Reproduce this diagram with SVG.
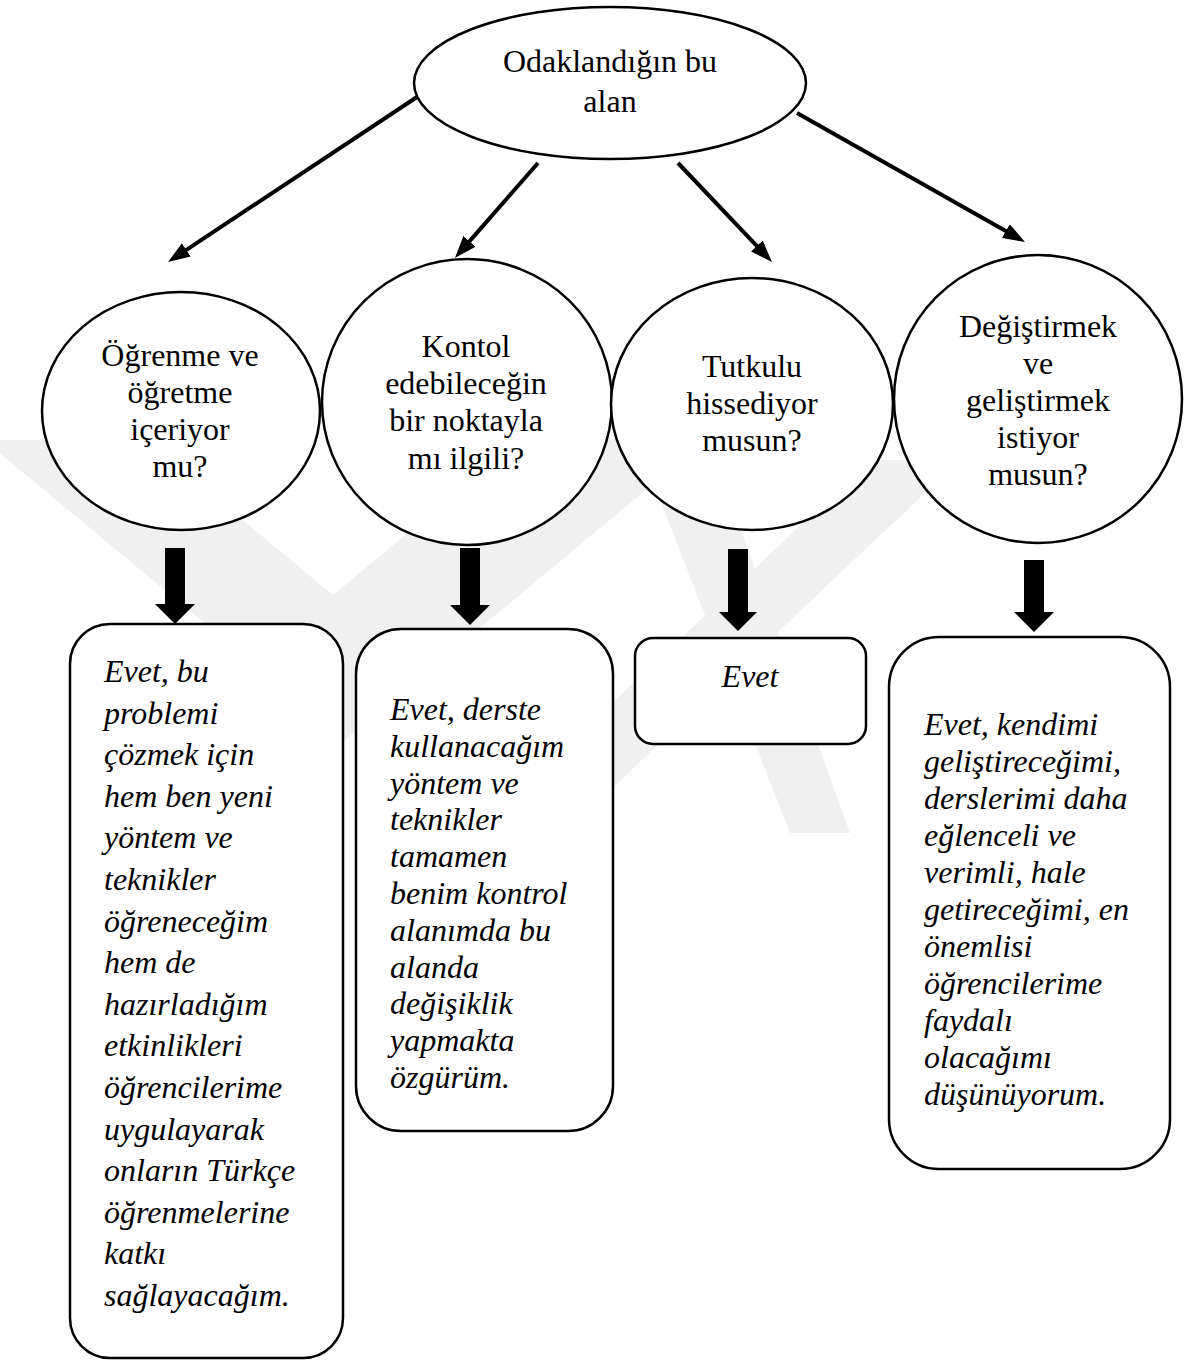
<svg xmlns="http://www.w3.org/2000/svg" width="1185" height="1360" viewBox="0 0 1185 1360">
  <defs>
    <style>
      .shape { fill: #ffffff; stroke: #000000; stroke-width: 2.5; }
      .q { font-family: "Liberation Serif", "Times New Roman", serif; font-size: 32px; fill: #000000; text-anchor: middle; }
      .a { font-family: "Liberation Serif", "Times New Roman", serif; font-size: 32px; font-style: italic; fill: #000000; }
      .conn { stroke: #000000; stroke-width: 4; fill: none; marker-end: url(#head); }
      .block { fill: #000000; }
      .wm { fill: #f0f0f0; }
    </style>
    <marker id="head" markerUnits="userSpaceOnUse" markerWidth="22" markerHeight="16" refX="4" refY="8" orient="auto">
      <path d="M0,0 L22,8 L0,16 z" fill="#000000"/>
    </marker>
  </defs>
  <rect x="0" y="0" width="1185" height="1360" fill="#ffffff"/>

  <g id="watermark">
    <polygon class="wm" points="-16,440 146,440 333,595 520,440 706,440 345,740"/>
    <polygon class="wm" points="520,790 610,790 960,460 870,460"/>
    <polygon class="wm" points="660,500 730,500 850,833 790,833"/>
  </g>

  <g id="connectors">
    <line class="conn" x1="423" y1="93" x2="183" y2="252.1"/>
    <line class="conn" x1="538" y1="163" x2="466.8" y2="244.4"/>
    <line class="conn" x1="678" y1="163" x2="759.6" y2="248.9"/>
    <line class="conn" x1="797" y1="113" x2="1009.3" y2="233.1"/>
    <polygon class="block" points="165,548 185,548 185,604 195,604 175,624 155,604 165,604"/>
    <polygon class="block" points="460,548 480,548 480,605 490,605 470,625 450,605 460,605"/>
    <polygon class="block" points="728,549 748,549 748,612 757,612 738,631 719,612 728,612"/>
    <polygon class="block" points="1024,560 1044,560 1044,612 1054,612 1034,632 1014,612 1024,612"/>
  </g>

  <g id="n-top">
    <ellipse class="shape" cx="610" cy="83" rx="196" ry="76"/>
    <text class="q" x="610" y="72">Odaklandığın bu</text>
    <text class="q" x="610" y="112">alan</text>
  </g>

  <g id="n-q1">
    <ellipse class="shape" cx="181" cy="411" rx="139" ry="119"/>
    <text class="q" x="180" y="366">Öğrenme ve</text>
    <text class="q" x="180" y="403">öğretme</text>
    <text class="q" x="180" y="440">içeriyor</text>
    <text class="q" x="180" y="477">mu?</text>
  </g>

  <g id="n-q2">
    <ellipse class="shape" cx="467" cy="402" rx="145" ry="143"/>
    <text class="q" x="466" y="357">Kontol</text>
    <text class="q" x="466" y="394">edebileceğin</text>
    <text class="q" x="466" y="431">bir noktayla</text>
    <text class="q" x="466" y="469">mı ilgili?</text>
  </g>

  <g id="n-q3">
    <ellipse class="shape" cx="752" cy="404" rx="141" ry="126"/>
    <text class="q" x="752" y="377">Tutkulu</text>
    <text class="q" x="752" y="414">hissediyor</text>
    <text class="q" x="752" y="451">musun?</text>
  </g>

  <g id="n-q4">
    <ellipse class="shape" cx="1038" cy="399" rx="144" ry="144"/>
    <text class="q" x="1038" y="337">Değiştirmek</text>
    <text class="q" x="1038" y="374">ve</text>
    <text class="q" x="1038" y="411">geliştirmek</text>
    <text class="q" x="1038" y="448">istiyor</text>
    <text class="q" x="1038" y="485">musun?</text>
  </g>

  <g id="n-a1">
    <rect class="shape" x="70" y="624" width="273" height="734" rx="40" ry="40"/>
    <text class="a" x="104" y="682">Evet, bu</text>
    <text class="a" x="104" y="723.6">problemi</text>
    <text class="a" x="104" y="765.2">çözmek için</text>
    <text class="a" x="104" y="806.8">hem ben yeni</text>
    <text class="a" x="104" y="848.4">yöntem ve</text>
    <text class="a" x="104" y="890">teknikler</text>
    <text class="a" x="104" y="931.6">öğreneceğim</text>
    <text class="a" x="104" y="973.2">hem de</text>
    <text class="a" x="104" y="1014.8">hazırladığım</text>
    <text class="a" x="104" y="1056.4">etkinlikleri</text>
    <text class="a" x="104" y="1098">öğrencilerime</text>
    <text class="a" x="104" y="1139.6">uygulayarak</text>
    <text class="a" x="104" y="1181.2">onların Türkçe</text>
    <text class="a" x="104" y="1222.8">öğrenmelerine</text>
    <text class="a" x="104" y="1264.4">katkı</text>
    <text class="a" x="104" y="1306">sağlayacağım.</text>
  </g>

  <g id="n-a2">
    <rect class="shape" x="356" y="629" width="257" height="502" rx="45" ry="45"/>
    <text class="a" x="390" y="720">Evet, derste</text>
    <text class="a" x="390" y="756.8">kullanacağım</text>
    <text class="a" x="390" y="793.6">yöntem ve</text>
    <text class="a" x="390" y="830.4">teknikler</text>
    <text class="a" x="390" y="867.2">tamamen</text>
    <text class="a" x="390" y="904">benim kontrol</text>
    <text class="a" x="390" y="940.8">alanımda bu</text>
    <text class="a" x="390" y="977.6">alanda</text>
    <text class="a" x="390" y="1014.4">değişiklik</text>
    <text class="a" x="390" y="1051.2">yapmakta</text>
    <text class="a" x="390" y="1088">özgürüm.</text>
  </g>

  <g id="n-a3">
    <rect class="shape" x="635" y="638" width="231" height="106" rx="18" ry="18"/>
    <text class="a" x="750" y="687" text-anchor="middle">Evet</text>
  </g>

  <g id="n-a4">
    <rect class="shape" x="889" y="637" width="281" height="532" rx="50" ry="50"/>
    <text class="a" x="924" y="735">Evet, kendimi</text>
    <text class="a" x="924" y="772">geliştireceğimi,</text>
    <text class="a" x="924" y="809">derslerimi daha</text>
    <text class="a" x="924" y="846">eğlenceli ve</text>
    <text class="a" x="924" y="883">verimli, hale</text>
    <text class="a" x="924" y="920">getireceğimi, en</text>
    <text class="a" x="924" y="957">önemlisi</text>
    <text class="a" x="924" y="994">öğrencilerime</text>
    <text class="a" x="924" y="1031">faydalı</text>
    <text class="a" x="924" y="1068">olacağımı</text>
    <text class="a" x="924" y="1105">düşünüyorum.</text>
  </g>
</svg>
